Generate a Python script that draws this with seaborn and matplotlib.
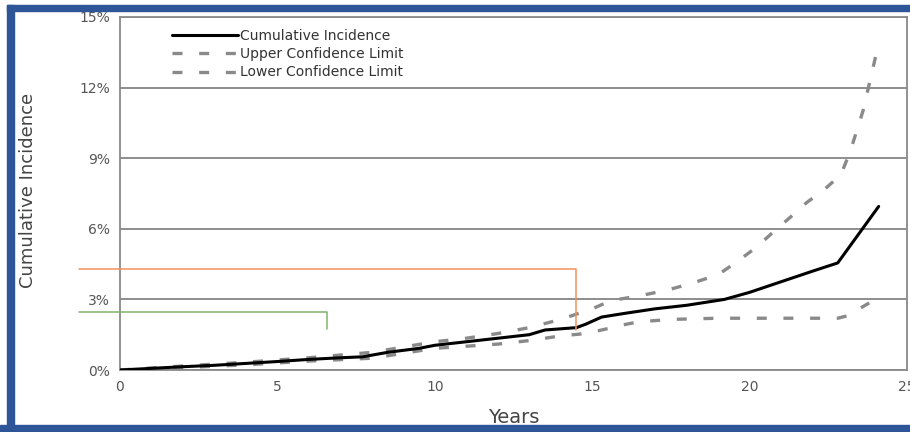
import matplotlib
matplotlib.use('Agg')
import matplotlib.pyplot as plt
import seaborn as sns
from matplotlib.patches import Rectangle
from matplotlib.ticker import FuncFormatter

# cumulative incidence (%) by years
ci_years = [0, 1, 2, 3, 4, 5, 6, 7, 7.7, 8.5, 9.5, 10, 11, 12, 13, 13.5, 14.5, 14.8,
            15.3, 16, 17, 18, 19.2, 20, 21, 22, 22.8, 24.1]
ci = [0, 0.07, 0.14, 0.2, 0.28, 0.36, 0.45, 0.52, 0.56, 0.75, 0.92, 1.05, 1.2, 1.35,
      1.5, 1.7, 1.8, 1.95, 2.25, 2.4, 2.6, 2.75, 3.0, 3.3, 3.75, 4.2, 4.55, 6.95]

upper_years = [0, 2, 4, 6, 8, 10, 11, 12, 13, 14, 15, 15.6, 16.5, 17.4, 18.2, 19.0,
               19.6, 20.2, 20.7, 21.3, 21.8, 22.4, 22.9, 23.2, 23.6, 24.0]
upper = [0, 0.17, 0.33, 0.52, 0.75, 1.2, 1.35, 1.55, 1.8, 2.15, 2.6, 2.95, 3.15, 3.4,
         3.7, 4.05, 4.6, 5.2, 5.8, 6.5, 7.1, 7.7, 8.3, 9.3, 11.0, 13.3]

lower_years = [0, 2, 4, 6, 8, 10, 12, 13, 14, 14.8, 15.3, 16.1, 16.5, 17.5, 19, 20,
               21, 22, 22.8, 23.1, 23.8]
lower = [0, 0.1, 0.22, 0.38, 0.5, 0.92, 1.1, 1.25, 1.45, 1.55, 1.7, 1.95, 2.05, 2.15,
         2.2, 2.2, 2.2, 2.2, 2.2, 2.3, 2.85]

# hand-drawn marker lines (year, %)
orange_x = [-1.3, 14.48, 14.48]
orange_y = [4.29, 4.29, 1.7]
green_x = [-1.3, 6.58, 6.58]
green_y = [2.46, 2.46, 1.74]

sns.set_style('white')
plt.rcParams['font.family'] = ['DejaVu Sans']

fig = plt.figure(figsize=(9.1, 4.32), dpi=100)
ax = fig.add_axes([120 / 910, 62 / 432, 787 / 910, 353 / 432])

sns.lineplot(x=ci_years, y=ci, ax=ax, color='black', lw=2.2,
             label='Cumulative Incidence', zorder=5)
sns.lineplot(x=upper_years, y=upper, ax=ax, color='#8a8a8a', lw=2.4,
             dashes=False, label='Upper Confidence Limit', zorder=4)
sns.lineplot(x=lower_years, y=lower, ax=ax, color='#8a8a8a', lw=2.4,
             dashes=False, label='Lower Confidence Limit', zorder=4)
for ln in ax.lines[1:3]:
    ln.set_dashes((3.0, 5.0))

ax.plot(orange_x, orange_y, color='#f4915a', lw=1.1, clip_on=False, zorder=6)
ax.plot(green_x, green_y, color='#7fb466', lw=1.1, clip_on=False, zorder=6)

ax.set_xlim(0, 25)
ax.set_ylim(0, 15)
ax.set_xticks([0, 5, 10, 15, 20, 25])
ax.set_yticks([0, 3, 6, 9, 12, 15])
ax.yaxis.set_major_formatter(FuncFormatter(lambda v, p: f'{v:.0f}%'))
ax.yaxis.grid(True, color='#7a7a7a', lw=1.2)
ax.xaxis.grid(False)
for s in ['left', 'bottom', 'right', 'top']:
    ax.spines[s].set_color('#8a8a8a')
    ax.spines[s].set_linewidth(1.3)
ax.tick_params(axis='both', colors='#8a8a8a', labelcolor='#555555', labelsize=10,
               length=4, width=1.2)
ax.tick_params(axis='y', direction='out', pad=3)
ax.tick_params(axis='x', direction='inout', length=6, pad=4)

ax.set_xlabel('Years', fontsize=14, color='#444444', labelpad=10)
ax.set_ylabel('Cumulative Incidence', fontsize=13, color='#444444',
              family=['Liberation Sans Narrow', 'DejaVu Sans'])
ax.yaxis.set_label_coords(-0.105, 0.51)

leg = ax.legend(loc='upper left', bbox_to_anchor=(0.062, 0.975), frameon=False,
                fontsize=10, handlelength=4.8, handletextpad=0.1, labelspacing=0.32,
                borderaxespad=0, borderpad=0.2)
for t in leg.get_texts():
    t.set_color('#333333')

# blue frame around the picture
blue = '#2e5597'
fig.patches.append(Rectangle((7 / 910, 0), 7 / 910, 427 / 432, transform=fig.transFigure,
                             color=blue, zorder=10))
fig.patches.append(Rectangle((0, 0), 1, 7 / 432, transform=fig.transFigure,
                             color=blue, zorder=10))
fig.patches.append(Rectangle((7 / 910, 421 / 432), 1, 6 / 432, transform=fig.transFigure,
                             color=blue, zorder=10))

plt.savefig('out.png', dpi=100)
